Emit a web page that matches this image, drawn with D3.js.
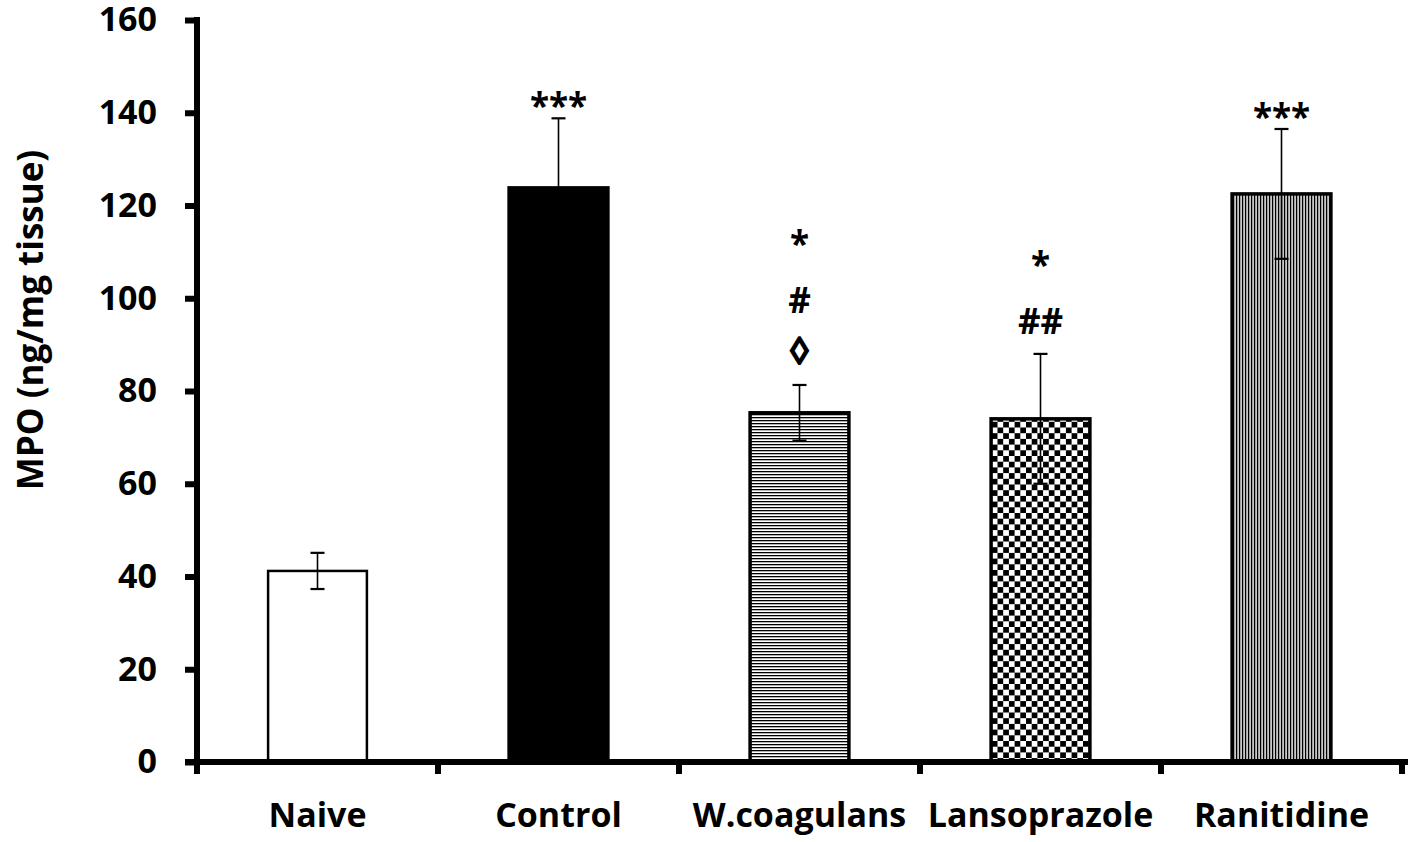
<!DOCTYPE html>
<html>
<head>
<meta charset="utf-8">
<script src="https://cdn.jsdelivr.net/npm/d3@7"></script>
<style>
  body { margin: 0; background: #fff; }
  svg text { font-family: "Open Sans", sans-serif; font-weight: 700; fill: #000; }
</style>
</head>
<body>
<svg id="chart" width="1417" height="842"></svg>
<script>
// data
var groups = ["Naive", "Control", "W.coagulans", "Lansoprazole", "Ranitidine"];
var means = [41.2, 123.8, 75.3, 74.0, 122.5];
var errors = [3.9, 15.0, 6.0, 14.0, 14.0];
var fills = ["none", "solid", "hlines", "checker", "vlines"];
var marks = [[], ["***"], ["◊", "#", "*"], ["##", "*"], ["***"]];
var yTicks = [0, 20, 40, 60, 80, 100, 120, 140, 160];

var svg = d3.select("#chart");

var plotLeft = 197, plotRight = 1402, plotTop = 20, plotBottom = 762;

var y = d3.scaleLinear().domain([0, 160]).range([plotBottom, plotTop]);
var x = d3.scaleBand().domain(groups).range([plotLeft, plotRight])
    .paddingInner(0.59).paddingOuter(0.295);

// patterns
var defs = svg.append("defs");

var ph = defs.append("pattern").attr("id", "hlines")
    .attr("patternUnits", "userSpaceOnUse").attr("width", 4).attr("height", 3);
ph.append("rect").attr("width", 4).attr("height", 3).attr("fill", "#fff");
ph.append("rect").attr("y", 0).attr("width", 4).attr("height", 1.3).attr("fill", "#000");

var pc = defs.append("pattern").attr("id", "checker")
    .attr("patternUnits", "userSpaceOnUse").attr("width", 11.4).attr("height", 11.4);
pc.append("rect").attr("width", 11.4).attr("height", 11.4).attr("fill", "#fff");
pc.append("rect").attr("width", 5.7).attr("height", 5.7).attr("fill", "#000");
pc.append("rect").attr("x", 5.7).attr("y", 5.7).attr("width", 5.7).attr("height", 5.7).attr("fill", "#000");

var pv = defs.append("pattern").attr("id", "vlines")
    .attr("patternUnits", "userSpaceOnUse").attr("width", 3).attr("height", 4);
pv.append("rect").attr("width", 3).attr("height", 4).attr("fill", "#c8c8c8");
pv.append("rect").attr("width", 1.2).attr("height", 4).attr("fill", "#000");

function fillOf(i) {
    if (fills[i] == "none") return "#fff";
    if (fills[i] == "solid") return "#000";
    return "url(#" + fills[i] + ")";
}

// bars
svg.selectAll("rect.bar")
    .data(groups)
    .enter()
    .append("rect")
    .attr("class", "bar")
    .attr("x", function (d) { return x(d); })
    .attr("width", x.bandwidth())
    .attr("y", function (d, i) { return y(means[i]); })
    .attr("height", function (d, i) { return y(0) - y(means[i]); })
    .attr("fill", function (d, i) { return fillOf(i); })
    .attr("stroke", "#000")
    .attr("stroke-width", function (d, i) { return i == 0 ? 2.5 : 3.5; });

// error bars
var capW = 14;
var err = svg.selectAll("g.err")
    .data(groups)
    .enter()
    .append("g")
    .attr("class", "err")
    .attr("stroke", "#000");

err.append("line")
    .attr("x1", function (d) { return x(d) + x.bandwidth() / 2; })
    .attr("x2", function (d) { return x(d) + x.bandwidth() / 2; })
    .attr("y1", function (d, i) { return y(means[i] - errors[i]); })
    .attr("y2", function (d, i) { return y(means[i] + errors[i]); })
    .attr("stroke-width", 1.6);

[1, -1].forEach(function (s) {
    err.append("line")
        .attr("x1", function (d) { return x(d) + x.bandwidth() / 2 - capW / 2; })
        .attr("x2", function (d) { return x(d) + x.bandwidth() / 2 + capW / 2; })
        .attr("y1", function (d, i) { return y(means[i] + s * errors[i]); })
        .attr("y2", function (d, i) { return y(means[i] + s * errors[i]); })
        .attr("stroke-width", 2.2);
});

// significance marks, stacked above error bar
groups.forEach(function (g, i) {
    var base = y(means[i] + errors[i]);
    marks[i].forEach(function (m, k) {
        var star = m.indexOf("*") >= 0;
        if (k == 0) base -= star ? 0 : 20;
        else base -= star ? 57 : 52;
        svg.append("text")
            .attr("x", x(g) + x.bandwidth() / 2)
            .attr("y", base)
            .attr("text-anchor", "middle")
            .style("font-size", m == "◊" ? "40px" : "35px")
            .text(m);
    });
});

// y axis
var yAxis = svg.append("g")
    .attr("transform", "translate(" + plotLeft + ",0)")
    .call(d3.axisLeft(y).tickValues(yTicks).tickSize(12).tickSizeOuter(0).tickPadding(28));
yAxis.select(".domain").attr("stroke-width", 6).attr("stroke", "#000")
    .attr("d", "M0," + (plotTop - 3) + "V" + (plotBottom + 3));
yAxis.selectAll(".tick line").attr("stroke-width", 6).attr("stroke", "#000");
yAxis.selectAll(".tick text").style("font-size", "34px")
    .style("font-family", "'Open Sans', sans-serif");

// x axis
svg.append("line")
    .attr("x1", plotLeft - 12).attr("x2", plotRight + 6)
    .attr("y1", plotBottom).attr("y2", plotBottom)
    .attr("stroke", "#000").attr("stroke-width", 6);

var bounds = groups.map(function (d) { return x(d) - x.step() * x.paddingInner() / 2; });
bounds.push(plotRight);
svg.selectAll("line.xtick")
    .data(bounds)
    .enter()
    .append("line")
    .attr("class", "xtick")
    .attr("x1", function (d) { return d; })
    .attr("x2", function (d) { return d; })
    .attr("y1", plotBottom)
    .attr("y2", plotBottom + 12)
    .attr("stroke", "#000")
    .attr("stroke-width", 6);

svg.selectAll("text.xlab")
    .data(groups)
    .enter()
    .append("text")
    .attr("class", "xlab")
    .attr("x", function (d) { return x(d) + x.bandwidth() / 2; })
    .attr("y", 827)
    .attr("text-anchor", "middle")
    .style("font-size", "34px")
    .text(function (d) { return d; });

// y title
svg.append("text")
    .attr("transform", "translate(43,320) rotate(-90)")
    .attr("text-anchor", "middle")
    .style("font-size", "35px")
    .text("MPO (ng/mg tissue)");
</script>
</body>
</html>
